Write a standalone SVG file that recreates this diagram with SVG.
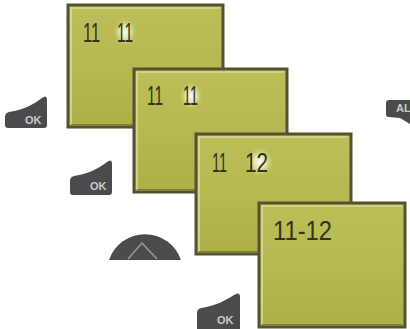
<svg xmlns="http://www.w3.org/2000/svg" width="410" height="329" viewBox="0 0 410 329">
<defs>
<linearGradient id="lcd" x1="0" y1="0" x2="0" y2="1">
<stop offset="0" stop-color="#bcbf58"/>
<stop offset="0.5" stop-color="#b6b94f"/>
<stop offset="1" stop-color="#adb047"/>
</linearGradient>
<radialGradient id="glow">
<stop offset="0" stop-color="#ffffff" stop-opacity="0.95"/>
<stop offset="0.45" stop-color="#f4f6cf" stop-opacity="0.7"/>
<stop offset="1" stop-color="#c4c76a" stop-opacity="0"/>
</radialGradient>
</defs>
<style>
.frame{fill:url(#lcd);stroke:#55532f;stroke-width:3}
.hl{fill:none;stroke:#e3e6b5;stroke-width:1.2}
.sh{fill:none;stroke:#7d7b45;stroke-width:1}
.dig{font-family:"Liberation Sans",Arial,sans-serif;font-size:28px;fill:#34331e}
.btn{fill:#4b4b4d}
.ok{font-family:"Liberation Sans",Arial,sans-serif;font-weight:bold;font-size:11px;fill:#c9c9c9}
</style>
<g id="screen1">
<rect class="frame" x="68" y="5" width="155" height="122"/>
<path class="hl" d="M71,125 V8 H220"/>
<path class="sh" d="M71,124.5 H220"/>
<ellipse cx="125" cy="32" rx="12" ry="14" fill="url(#glow)"/>
<text class="dig" x="83" y="42" textLength="17" lengthAdjust="spacingAndGlyphs">11</text>
<text class="dig" x="117" y="42" textLength="16" lengthAdjust="spacingAndGlyphs">11</text>
</g>
<g id="screen2">
<rect class="frame" x="134" y="69" width="153" height="123"/>
<path class="hl" d="M137,190 V72 H284"/>
<path class="sh" d="M137,189.5 H284"/>
<ellipse cx="191" cy="96" rx="12" ry="14" fill="url(#glow)"/>
<text class="dig" x="147" y="105" textLength="16" lengthAdjust="spacingAndGlyphs">11</text>
<text class="dig" x="183" y="105" textLength="15" lengthAdjust="spacingAndGlyphs">11</text>
</g>
<g id="screen3">
<rect class="frame" x="196" y="134" width="155" height="120"/>
<path class="hl" d="M199,252 V137 H348"/>
<path class="sh" d="M199,251.5 H348"/>
<ellipse cx="260" cy="162" rx="14" ry="15" fill="url(#glow)"/>
<text class="dig" x="212" y="172" textLength="15" lengthAdjust="spacingAndGlyphs">11</text>
<text class="dig" x="245" y="172" textLength="23" lengthAdjust="spacingAndGlyphs">12</text>
</g>
<g id="screen4">
<rect class="frame" x="259" y="203" width="146" height="124"/>
<path class="hl" d="M262,325 V206 H402"/>
<path class="sh" d="M262,324.5 H402"/>
<text class="dig" x="273" y="240" textLength="59" lengthAdjust="spacingAndGlyphs">11-12</text>
</g>
<g id="ok1">
<path class="btn" d="M5,117 Q5,113 9,112 C24,110 34,104 42,98 Q47,94 47,100 L47,125 Q47,128 44,128 L8,128 Q5,128 5,125 Z"/>
<text class="ok" x="25" y="124">OK</text>
</g>
<g id="ok2">
<path class="btn" d="M70,181 Q70,177 74,176 C89,174 99,168 107,162 Q112,158 112,164 L112,192 Q112,195 109,195 L73,195 Q70,195 70,192 Z"/>
<text class="ok" x="90" y="190">OK</text>
</g>
<g id="up">
<path class="btn" d="M109,260 A38,38 0 0 1 181,260 Z"/>
<path d="M128,259 L142,243 L157,259" fill="none" stroke="#9a9a9a" stroke-width="1.5"/>
</g>
<g id="ok3">
<path class="btn" d="M197,313 Q197,309 201,308 C216,306 226,300 234,295 Q240,291 240,297 L240,329 L197,329 Z"/>
<text class="ok" x="217" y="324">OK</text>
</g>
<g id="al">
<path class="btn" d="M386,103 Q386,100 389,100 L410,100 L410,124 L400,118 L389,117 Q386,117 386,114 Z"/>
<text class="ok" x="396" y="112" font-size="10">AL</text>
</g>
<g id="connectors"/>
</svg>
